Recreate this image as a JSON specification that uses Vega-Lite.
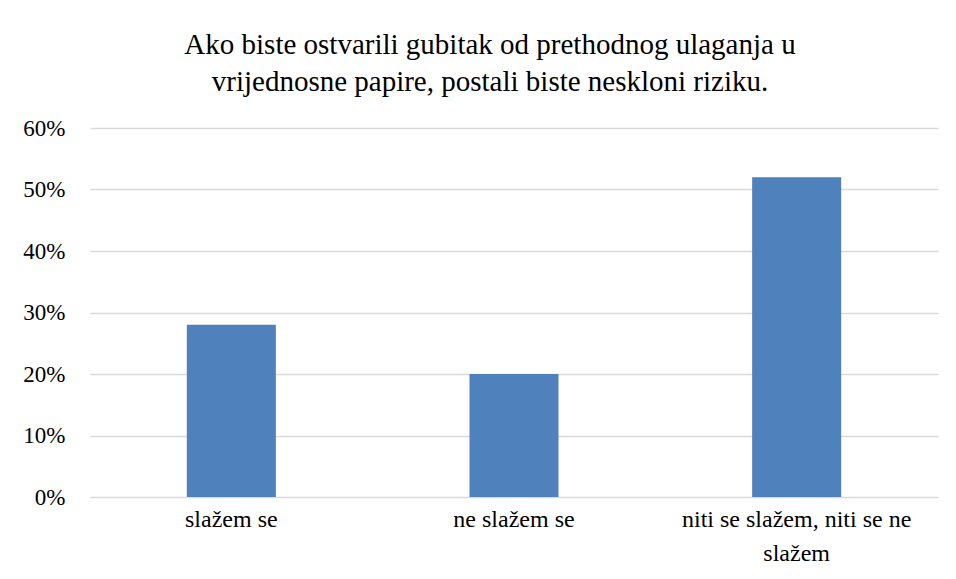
{
  "$schema": "https://vega.github.io/schema/vega-lite/v6.json",
  "autosize": "none",
  "width": 848,
  "height": 369,
  "padding": {"left": 90, "top": 128, "right": 18, "bottom": 82},
  "background": "white",
  "title": {
    "text": ["Ako biste ostvarili gubitak od prethodnog ulaganja u", "vrijednosne papire, postali biste neskloni riziku."],
    "font": "'Liberation Serif', 'Times New Roman', serif",
    "fontSize": 29,
    "fontWeight": "normal",
    "color": "#000000",
    "anchor": "middle",
    "dx": -24,
    "lineHeight": 37,
    "offset": 20
  },
  "data": {
    "values": [
      {"odgovor": "slažem se", "udio": 0.28},
      {"odgovor": "ne slažem se", "udio": 0.20},
      {"odgovor": "niti se slažem, niti se ne slažem", "udio": 0.52}
    ]
  },
  "mark": {"type": "bar", "color": "#4F81BD"},
  "encoding": {
    "x": {
      "field": "odgovor",
      "type": "nominal",
      "sort": null,
      "scale": {"paddingInner": 0.685, "paddingOuter": 0.3425},
      "axis": {
        "title": null,
        "labelAngle": 0,
        "labelFont": "'Liberation Serif', 'Times New Roman', serif",
        "labelFontSize": 24,
        "labelColor": "#000000",
        "labelPadding": 10,
        "labelLineHeight": 34,
        "labelBaseline": "top",
        "labelLimit": 0,
        "ticks": false,
        "domain": false,
        "labelExpr": "datum.value == 'niti se slažem, niti se ne slažem' ? ['niti se slažem, niti se ne', 'slažem'] : datum.value"
      }
    },
    "y": {
      "field": "udio",
      "type": "quantitative",
      "scale": {"domain": [0, 0.6], "nice": false},
      "axis": {
        "title": null,
        "values": [0, 0.1, 0.2, 0.3, 0.4, 0.5, 0.6],
        "format": ".0%",
        "labelFont": "'Liberation Serif', 'Times New Roman', serif",
        "labelFontSize": 23,
        "labelColor": "#000000",
        "labelPadding": 25,
        "ticks": false,
        "domain": false,
        "grid": true,
        "gridColor": "#D9D9D9",
        "gridWidth": 1.3
      }
    }
  },
  "config": {
    "view": {"stroke": null}
  }
}
